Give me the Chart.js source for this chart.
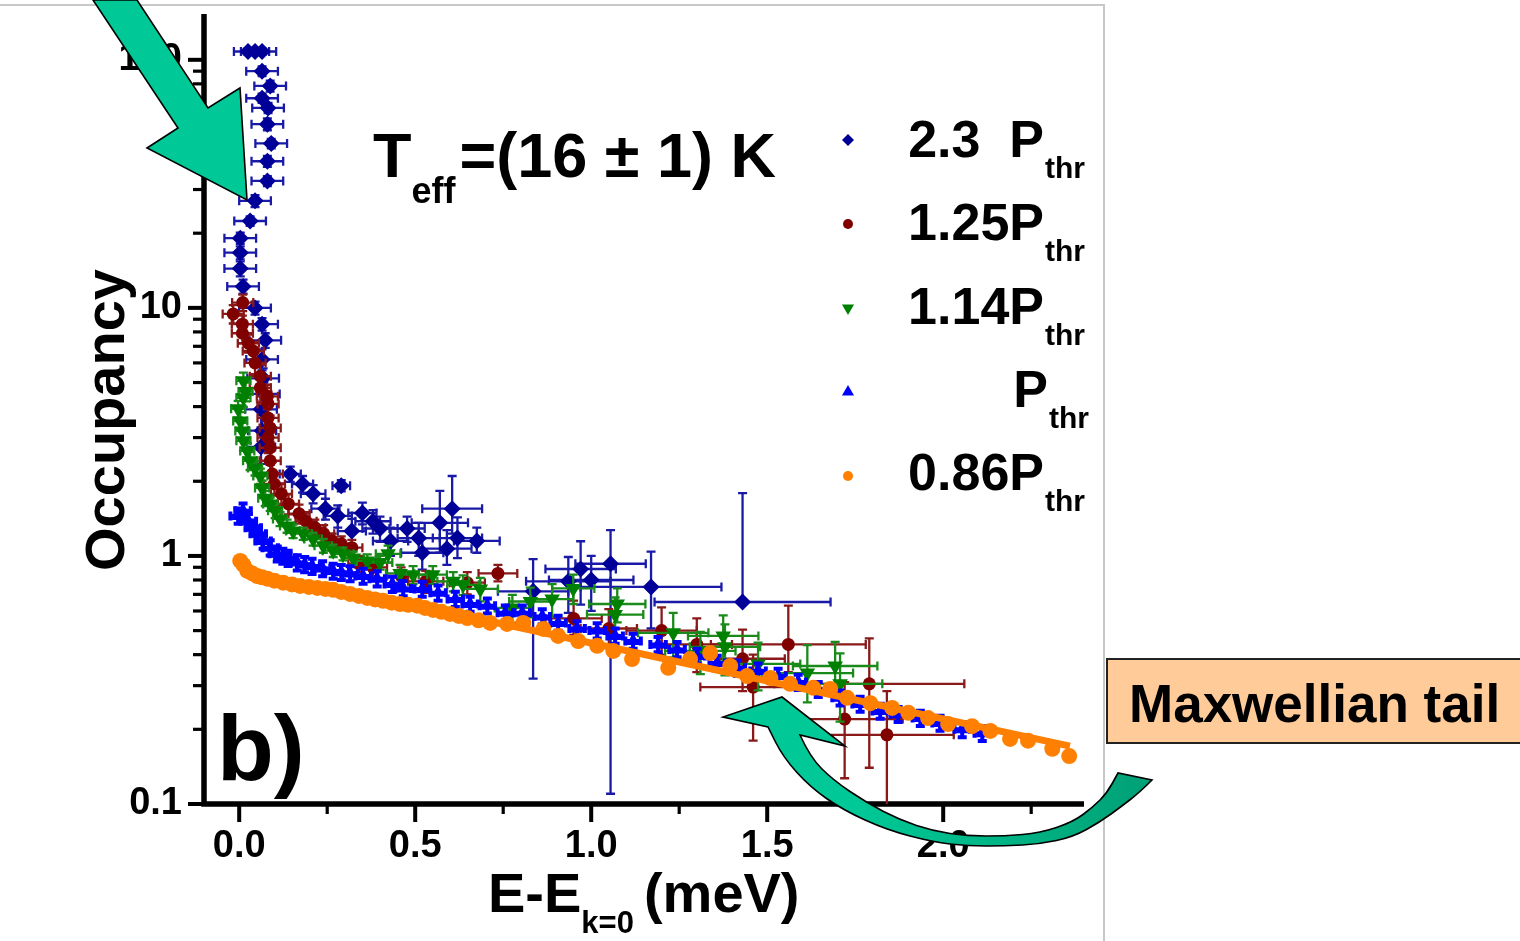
<!DOCTYPE html>
<html>
<head>
<meta charset="utf-8">
<script src="https://cdn.jsdelivr.net/npm/chart.js@4.4.1/dist/chart.umd.min.js"></script>
<style>
  html, body { margin: 0; padding: 0; background: #fff; }
  #wrap { position: relative; width: 1520px; height: 941px; }
  canvas { display: block; }
</style>
</head>
<body>
<div id="wrap"><canvas id="chart" width="1520" height="941"></canvas></div>
<script>
// Polariton occupancy versus energy above k=0, five excitation powers.
// Rows: [energy (meV), occupancy, energy error, occupancy error below, occupancy error above]

const xTickValues = [0, 0.25, 0.5, 0.75, 1.0, 1.25, 1.5, 1.75, 2.0, 2.25];
const xTickLabels = ['0.0', '', '0.5', '', '1.0', '', '1.5', '', '2.0', ''];
const yDecades = [0.1, 1, 10, 100];
const yDecadeLabels = ['0.1', '1', '10', '100'];
const yMinorValues = [0.2, 0.3, 0.4, 0.5, 0.6, 0.7, 0.8, 0.9, 2, 3, 4, 5, 6, 7, 8, 9, 20, 30, 40, 50, 60, 70, 80, 90];

const legendLabels = ['2.3  P', '1.25P', '1.14P', 'P', '0.86P'];
const legendSub = 'thr';

const power23 = [
  [0.025, 108, 0.04, 3, 3], [0.045, 108, 0.04, 3, 3], [0.065, 108, 0.04, 3, 3],
  [0.065, 90, 0.045, 4, 4], [0.088, 78.5, 0.045, 4, 4], [0.065, 70, 0.045, 3, 3],
  [0.082, 64, 0.045, 3, 3], [0.080, 55, 0.045, 3, 3], [0.091, 46, 0.045, 2, 2],
  [0.080, 39, 0.045, 2, 2], [0.080, 32.5, 0.045, 1.5, 1.5], [0.045, 27, 0.045, 1.5, 1.5],
  [0.031, 22.4, 0.045, 1, 1], [0.003, 19.1, 0.045, 1, 1], [0.003, 16.7, 0.045, 1, 1],
  [0.003, 14.4, 0.045, 1, 1], [0.011, 12.2, 0.045, 0.8, 0.8], [0.045, 10.0, 0.045, 0.6, 0.6],
  [0.065, 8.6, 0.045, 0.5, 0.5], [0.074, 7.4, 0.045, 0.5, 0.5], [0.065, 6.2, 0.045, 0.6, 0.6],
  [0.068, 5.2, 0.045, 0.5, 0.5], [0.070, 4.5, 0.045, 0.5, 0.5], [0.062, 3.9, 0.045, 0.6, 0.6],
  [0.065, 3.2, 0.04, 0.5, 0.5], [0.062, 2.75, 0.04, 0.4, 0.4], [0.145, 2.14, 0.03, 0.15, 0.15],
  [0.18, 1.95, 0.03, 0.15, 0.15], [0.21, 1.78, 0.035, 0.15, 0.15], [0.29, 1.92, 0.025, 0.1, 0.1],
  [0.245, 1.55, 0.04, 0.15, 0.15], [0.28, 1.45, 0.04, 0.15, 0.15], [0.35, 1.49, 0.04, 0.15, 0.15],
  [0.32, 1.26, 0.04, 0.15, 0.15], [0.38, 1.38, 0.05, 0.15, 0.15], [0.40, 1.29, 0.05, 0.15, 0.15],
  [0.43, 1.15, 0.05, 0.15, 0.15], [0.477, 1.29, 0.05, 0.15, 0.15], [0.51, 1.18, 0.06, 0.18, 0.18],
  [0.52, 1.03, 0.06, 0.15, 0.15], [0.57, 1.36, 0.08, 0.33, 0.47], [0.605, 1.55, 0.085, 0.32, 0.55],
  [0.62, 1.18, 0.07, 0.2, 0.25], [0.59, 1.07, 0.07, 0.15, 0.2], [0.675, 1.15, 0.065, 0.12, 0.15],
  [0.835, 0.72, 0.1, 0.4, 0.25], [0.935, 0.79, 0.12, 0.2, 0.2], [0.97, 0.886, 0.1, 0.25, 0.26],
  [1.00, 0.80, 0.12, 0.2, 0.2], [1.055, 0.93, 0.1, 0.82, 0.34], [1.17, 0.75, 0.2, 0.24, 0.29],
  [1.43, 0.652, 0.25, null, 1.14]
];

const power125 = [
  [0.01, 10.5, 0.03, 0.8, 0.8], [-0.017, 9.45, 0.03, 0.8, 0.8], [0.009, 8.6, 0.03, 0.7, 0.7],
  [0.009, 7.9, 0.03, 0.7, 0.7], [0.026, 7.2, 0.03, 0.6, 0.6], [0.04, 6.7, 0.03, 0.6, 0.6],
  [0.045, 6.0, 0.03, 0.6, 0.6], [0.06, 5.3, 0.03, 0.6, 0.6], [0.06, 4.76, 0.03, 0.6, 0.6],
  [0.08, 4.4, 0.03, 0.5, 0.5], [0.082, 4.1, 0.03, 0.5, 0.5], [0.082, 3.6, 0.03, 0.5, 0.5],
  [0.088, 3.28, 0.03, 0.4, 0.4], [0.082, 3.0, 0.03, 0.4, 0.4], [0.088, 2.73, 0.03, 0.4, 0.4],
  [0.088, 2.42, 0.03, 0.3, 0.3], [0.094, 2.14, 0.03, 0.25, 0.25], [0.10, 1.95, 0.03, 0.2, 0.2],
  [0.12, 1.78, 0.03, 0.18, 0.18], [0.14, 1.62, 0.03, 0.15, 0.15], [0.17, 1.48, 0.03, 0.13, 0.13],
  [0.19, 1.38, 0.03, 0.12, 0.12], [0.215, 1.30, 0.03, 0.1, 0.1], [0.24, 1.23, 0.03, 0.1, 0.1],
  [0.264, 1.15, 0.03, 0.08, 0.08], [0.29, 1.12, 0.03, 0.08, 0.08], [0.32, 1.08, 0.03, 0.08, 0.08],
  [0.34, 0.93, 0.03, 0.07, 0.07], [0.38, 0.90, 0.04, 0.07, 0.07], [0.46, 0.83, 0.04, 0.07, 0.07],
  [0.53, 0.79, 0.05, 0.08, 0.08], [0.648, 0.78, 0.05, 0.08, 0.08], [0.735, 0.85, 0.055, 0.06, 0.07],
  [0.95, 0.56, 0.08, 0.08, 0.1], [1.05, 0.51, 0.08, 0.08, 0.1], [1.2, 0.50, 0.1, 0.1, 0.12],
  [1.3, 0.44, 0.1, 0.1, 0.12], [1.43, 0.385, 0.12, 0.1, 0.12], [1.46, 0.296, 0.15, 0.116, 0.104],
  [1.56, 0.44, 0.22, 0.1, 0.19], [1.72, 0.22, 0.165, 0.093, 0.09], [1.79, 0.305, 0.27, 0.165, 0.16],
  [1.84, 0.19, 0.19, 0.095, 0.095]
];

const power114 = [
  [0.012, 5.08, 0.02, 0.4, 0.4], [0.018, 4.6, 0.02, 0.4, 0.4], [0.012, 4.34, 0.02, 0.35, 0.35],
  [-0.003, 3.92, 0.02, 0.3, 0.3], [0.003, 3.5, 0.02, 0.3, 0.3], [0.009, 3.19, 0.02, 0.25, 0.25],
  [0.012, 2.91, 0.02, 0.25, 0.25], [0.023, 2.65, 0.02, 0.2, 0.2], [0.031, 2.42, 0.02, 0.2, 0.2],
  [0.045, 2.26, 0.02, 0.15, 0.15], [0.06, 2.1, 0.02, 0.15, 0.15], [0.065, 1.88, 0.02, 0.13, 0.13],
  [0.074, 1.71, 0.02, 0.12, 0.12], [0.088, 1.62, 0.02, 0.1, 0.1], [0.102, 1.52, 0.02, 0.1, 0.1],
  [0.116, 1.41, 0.02, 0.09, 0.09], [0.136, 1.32, 0.02, 0.08, 0.08], [0.153, 1.26, 0.02, 0.08, 0.08],
  [0.182, 1.23, 0.025, 0.07, 0.07], [0.21, 1.17, 0.025, 0.07, 0.07], [0.239, 1.10, 0.025, 0.07, 0.07],
  [0.267, 1.05, 0.03, 0.06, 0.06], [0.295, 1.02, 0.03, 0.06, 0.06], [0.324, 0.98, 0.03, 0.06, 0.06],
  [0.364, 0.955, 0.03, 0.06, 0.06], [0.40, 0.94, 0.035, 0.06, 0.06], [0.423, 1.02, 0.035, 0.08, 0.08],
  [0.457, 0.85, 0.04, 0.07, 0.07], [0.494, 0.84, 0.04, 0.07, 0.07], [0.55, 0.84, 0.04, 0.07, 0.07],
  [0.608, 0.79, 0.045, 0.07, 0.07], [0.636, 0.765, 0.045, 0.07, 0.07], [0.685, 0.736, 0.05, 0.08, 0.08],
  [0.776, 0.617, 0.05, 0.08, 0.08], [0.827, 0.655, 0.06, 0.09, 0.09], [0.889, 0.67, 0.06, 0.1, 0.1],
  [0.949, 0.74, 0.06, 0.1, 0.1], [1.074, 0.64, 0.08, 0.1, 0.1], [1.068, 0.58, 0.08, 0.1, 0.1],
  [1.233, 0.49, 0.1, 0.1, 0.1], [1.31, 0.414, 0.1, 0.08, 0.08], [1.375, 0.476, 0.1, 0.1, 0.1],
  [1.38, 0.43, 0.1, 0.1, 0.1], [1.474, 0.367, 0.12, 0.08, 0.08], [1.614, 0.337, 0.13, 0.08, 0.1],
  [1.693, 0.36, 0.12, 0.08, 0.09], [1.707, 0.305, 0.12, 0.09, 0.1]
];

const power100 = [
  [-0.003, 1.45], [0.011, 1.52], [0.026, 1.38], [0.04, 1.30], [0.054, 1.23], [0.068, 1.15],
  [0.088, 1.08], [0.108, 1.02], [0.124, 1.0], [0.139, 0.98], [0.165, 0.94], [0.186, 0.925],
  [0.207, 0.91], [0.237, 0.89], [0.267, 0.87], [0.29, 0.86], [0.315, 0.85], [0.352, 0.83],
  [0.392, 0.81], [0.435, 0.77], [0.466, 0.74], [0.52, 0.736], [0.565, 0.71], [0.614, 0.67],
  [0.656, 0.64], [0.705, 0.63], [0.756, 0.59], [0.804, 0.59], [0.861, 0.57], [0.906, 0.537],
  [0.96, 0.51], [1.017, 0.50], [1.068, 0.476], [1.119, 0.454], [1.19, 0.44], [1.244, 0.42],
  [1.301, 0.395], [1.358, 0.37], [1.415, 0.354], [1.474, 0.344], [1.531, 0.328], [1.588, 0.31],
  [1.645, 0.29], [1.707, 0.268], [1.764, 0.253], [1.821, 0.237], [1.872, 0.23], [1.935, 0.222],
  [1.991, 0.212], [2.054, 0.20], [2.111, 0.193]
];

const power086 = [
  [0.003, 0.955], [0.012, 0.92], [0.023, 0.87], [0.037, 0.85], [0.051, 0.83], [0.065, 0.82],
  [0.08, 0.81], [0.10, 0.795], [0.125, 0.78], [0.15, 0.768], [0.173, 0.757], [0.198, 0.75],
  [0.222, 0.743], [0.245, 0.736], [0.267, 0.73], [0.29, 0.716], [0.315, 0.703], [0.34, 0.69],
  [0.364, 0.677], [0.386, 0.668], [0.409, 0.659], [0.433, 0.648], [0.457, 0.64], [0.48, 0.635],
  [0.506, 0.63], [0.528, 0.617], [0.551, 0.606], [0.575, 0.595], [0.599, 0.584], [0.624, 0.573],
  [0.648, 0.562], [0.68, 0.55], [0.713, 0.537], [0.761, 0.532], [0.807, 0.537], [0.864, 0.508],
  [0.906, 0.476], [0.963, 0.454], [1.017, 0.434], [1.063, 0.414], [1.116, 0.384], [1.219, 0.354],
  [1.281, 0.384], [1.338, 0.406], [1.395, 0.36], [1.443, 0.328], [1.509, 0.322], [1.565, 0.305],
  [1.631, 0.294], [1.679, 0.291], [1.727, 0.268], [1.793, 0.255], [1.855, 0.244], [1.901, 0.233],
  [1.957, 0.222], [2.014, 0.21], [2.082, 0.206], [2.134, 0.197], [2.19, 0.183], [2.241, 0.18],
  [2.31, 0.167], [2.358, 0.156]
];

// Exponential (Maxwell-Boltzmann) tail fitted to the 0.86 Pthr data
const fitEnergy = [0.6, 2.36];
const fitOccupancy = [0.59, 0.171];

const FONT = "'Liberation Sans', Arial, Helvetica, sans-serif";

// Error rows for series stored with relative errors
function withErrors(rows, xe, rel) {
  return rows.map(r => [r[0], r[1], xe, r[1] * rel, r[1] * rel]);
}

function makeSet(label, rows, color, errColor, errWidth, style, radius, rotation, order) {
  return {
    label,
    data: rows.map(r => ({ x: r[0], y: r[1] })),
    errors: rows,
    errColor,
    errWidth,
    backgroundColor: color,
    borderColor: color,
    pointStyle: style,
    pointRadius: radius,
    pointRotation: rotation,
    pointBorderWidth: 0,
    showLine: false,
    order
  };
}

const datasets = [
  makeSet(legendLabels[0], power23, '#000099', '#1a1aa8', 2.3, 'rectRot', 8.5, 0, 5),
  makeSet(legendLabels[1], power125, '#800000', '#8a1a1a', 2.3, 'circle', 6.5, 0, 4),
  makeSet(legendLabels[2], power114, '#008000', '#1a8a1a', 2.3, 'triangle', 9, 180, 3),
  makeSet(legendLabels[3], withErrors(power100, 0.022, 0.07), '#0000ff', '#0000ff', 4, 'triangle', 8, 0, 2),
  makeSet(legendLabels[4], withErrors(power086, 0.012, 0.035), '#ff8000', '#ff8000', 2.3, 'circle', 8, 0, 0),
  {
    label: 'fit',
    data: fitEnergy.map((e, i) => ({ x: e, y: fitOccupancy[i] })),
    showLine: true,
    borderColor: '#ff8000',
    borderWidth: 7,
    pointRadius: 0,
    order: 1
  }
];

// Error bars drawn just before each dataset's markers
const errorBars = {
  id: 'errorBars',
  beforeDatasetDraw(chart, args) {
    const ds = chart.data.datasets[args.index];
    if (!ds.errors) return;
    const { ctx, chartArea: a, scales: { x, y } } = chart;
    const cap = 4.5;
    ctx.save();
    ctx.beginPath();
    ctx.rect(a.left, a.top, a.right - a.left, a.bottom - a.top);
    ctx.clip();
    ctx.strokeStyle = ds.errColor;
    ctx.lineWidth = ds.errWidth;
    ds.errors.forEach(([vx, vy, xe, eLo, eHi]) => {
      const px = x.getPixelForValue(vx);
      const py = y.getPixelForValue(vy);
      ctx.beginPath();
      if (xe) {
        const l = x.getPixelForValue(vx - xe);
        const r = x.getPixelForValue(vx + xe);
        ctx.moveTo(l, py); ctx.lineTo(r, py);
        ctx.moveTo(l, py - cap); ctx.lineTo(l, py + cap);
        ctx.moveTo(r, py - cap); ctx.lineTo(r, py + cap);
      }
      if (eHi) {
        const t = y.getPixelForValue(vy + eHi);
        ctx.moveTo(px, py); ctx.lineTo(px, t);
        ctx.moveTo(px - cap, t); ctx.lineTo(px + cap, t);
      }
      if (eLo != null && vy - eLo > 0) {
        const b = y.getPixelForValue(vy - eLo);
        ctx.moveTo(px, py); ctx.lineTo(px, b);
        ctx.moveTo(px - cap, b); ctx.lineTo(px + cap, b);
      }
      ctx.stroke();
    });
    ctx.restore();
  }
};

// Thick axis spines with outward major/minor tick marks
const axisFrame = {
  id: 'axisFrame',
  beforeDatasetsDraw(chart) {
    const { ctx, chartArea: a, scales: { x, y } } = chart;
    ctx.save();
    ctx.strokeStyle = '#000';
    ctx.lineCap = 'butt';
    yDecades.concat(yMinorValues).forEach(v => {
      const major = yDecades.includes(v);
      const py = y.getPixelForValue(v);
      ctx.lineWidth = major ? 4 : 3.2;
      ctx.beginPath();
      ctx.moveTo(a.left, py);
      ctx.lineTo(a.left - (major ? 16 : 11), py);
      ctx.stroke();
    });
    xTickValues.forEach((v, i) => {
      const major = xTickLabels[i] !== '';
      const px = x.getPixelForValue(v);
      ctx.lineWidth = major ? 4 : 3.2;
      ctx.beginPath();
      ctx.moveTo(px, a.bottom);
      ctx.lineTo(px, a.bottom + (major ? 18 : 10));
      ctx.stroke();
    });
    ctx.lineWidth = 5.5;
    ctx.beginPath();
    ctx.moveTo(a.left, a.top);
    ctx.lineTo(a.left, a.bottom + 2.75);
    ctx.moveTo(a.left - 2.75, a.bottom);
    ctx.lineTo(a.right, a.bottom);
    ctx.stroke();
    ctx.restore();
  }
};

function font(size) { return 'bold ' + size + 'px ' + FONT; }

function smoothPath(ctx, pts) {
  ctx.lineTo(pts[0][0], pts[0][1]);
  for (let i = 1; i < pts.length - 1; i++) {
    const mx = (pts[i][0] + pts[i + 1][0]) / 2;
    const my = (pts[i][1] + pts[i + 1][1]) / 2;
    ctx.quadraticCurveTo(pts[i][0], pts[i][1], mx, my);
  }
  const last = pts[pts.length - 1];
  ctx.lineTo(last[0], last[1]);
}

// Texts, legend and callout shapes
const annotations = {
  id: 'annotations',
  afterDraw(chart) {
    const { ctx } = chart;
    ctx.save();

    // figure frame
    ctx.strokeStyle = '#c8c8c8';
    ctx.lineWidth = 2;
    ctx.beginPath();
    ctx.moveTo(0, 5); ctx.lineTo(1104, 5); ctx.lineTo(1104, 941);
    ctx.stroke();

    ctx.fillStyle = '#000';
    ctx.textBaseline = 'alphabetic';
    ctx.textAlign = 'left';

    // effective temperature
    let tx = 373;
    ctx.font = font(63);
    ctx.fillText('T', tx, 177);
    tx += ctx.measureText('T').width;
    ctx.font = font(36);
    ctx.fillText('eff', tx, 203);
    tx += ctx.measureText('eff').width + 4;
    ctx.font = font(63);
    ctx.fillText('=(16 \u00b1 1) K', tx, 177);

    // panel letter
    ctx.font = font(93);
    ctx.fillText('b)', 217, 780);

    // y axis title
    ctx.save();
    ctx.translate(124, 420);
    ctx.rotate(-Math.PI / 2);
    ctx.textAlign = 'center';
    ctx.font = font(56);
    ctx.fillText('Occupancy', 0, 0);
    ctx.restore();

    // x axis title
    let ax = 488;
    ctx.font = font(56);
    ctx.fillText('E-E', ax, 912);
    ax += ctx.measureText('E-E').width;
    ctx.font = font(31);
    ctx.fillText('k=0', ax, 933);
    ax += ctx.measureText('k=0').width + 10;
    ctx.font = font(56);
    ctx.fillText('(meV)', ax, 912);

    // legend
    const markerColors = ['#000099', '#800000', '#008000', '#0000ff', '#ff8000'];
    const markerStyles = ['rectRot', 'circle', 'triangle', 'triangle', 'circle'];
    const markerRot = [0, 0, 180, 0, 0];
    const markerSize = [6, 5, 7, 7, 5];
    const rowShift = [0, 0, 0, 4, 0];
    legendLabels.forEach((lab, i) => {
      const my = 140 + i * 84;
      ctx.fillStyle = markerColors[i];
      ctx.strokeStyle = markerColors[i];
      Chart.helpers.drawPoint(ctx, { pointStyle: markerStyles[i], rotation: markerRot[i], radius: markerSize[i], borderWidth: 0 }, 848, my);
      const base = 157 + i * 83.3;
      ctx.fillStyle = '#000';
      ctx.textAlign = 'right';
      ctx.font = font(52);
      ctx.fillText(lab, 1044 + rowShift[i], base);
      ctx.textAlign = 'left';
      ctx.font = font(30);
      ctx.fillText(legendSub, 1045 + rowShift[i], base + 21);
    });

    // label box
    ctx.fillStyle = '#ffcc99';
    ctx.fillRect(1107, 659, 420, 84);
    ctx.strokeStyle = '#222';
    ctx.lineWidth = 2;
    ctx.strokeRect(1107, 659, 420, 84);
    ctx.fillStyle = '#000';
    ctx.textAlign = 'left';
    ctx.font = font(53);
    ctx.fillText('Maxwellian tail', 1129, 722);

    // straight arrow pointing at the condensate
    ctx.beginPath();
    ctx.moveTo(93, 0);
    ctx.lineTo(137, 0);
    ctx.lineTo(208, 108);
    ctx.lineTo(240, 88);
    ctx.lineTo(247, 200);
    ctx.lineTo(147, 148);
    ctx.lineTo(178, 128);
    ctx.closePath();
    ctx.fillStyle = '#00c997';
    ctx.fill();
    ctx.strokeStyle = '#000';
    ctx.lineWidth = 1.6;
    ctx.stroke();

    // curved arrow pointing at the tail
    const inner = [[800, 735], [810, 757], [833, 780], [867, 803], [900, 820], [933, 831], [967, 836],
      [1005, 836], [1040, 833], [1073, 822], [1093, 807], [1107, 793], [1118, 773]];
    const outer = [[1152, 780], [1140, 792], [1122, 806], [1100, 822], [1073, 837], [1040, 844],
      [1005, 846], [967, 846], [933, 842], [887, 830], [843, 810], [810, 787], [783, 757], [768, 727]];
    ctx.beginPath();
    ctx.moveTo(768, 727);
    ctx.lineTo(723, 717);
    ctx.lineTo(782, 697);
    ctx.lineTo(845, 746);
    smoothPath(ctx, inner);
    smoothPath(ctx, outer);
    ctx.closePath();
    const grad = ctx.createLinearGradient(850, 0, 1130, 0);
    grad.addColorStop(0, '#00c997');
    grad.addColorStop(1, '#00a377');
    ctx.fillStyle = grad;
    ctx.fill();
    ctx.strokeStyle = '#000';
    ctx.lineWidth = 1.6;
    ctx.stroke();

    ctx.restore();
  }
};

// Scale boxes sized so the plot area spans exactly the padded region
function fixBox(s, size) {
  if (s.isHorizontal()) s.height = size; else s.width = size;
  s.paddingTop = 0;
  s.paddingBottom = 0;
  s.paddingLeft = 0;
  s.paddingRight = 0;
}

new Chart(document.getElementById('chart'), {
  type: 'scatter',
  data: { datasets },
  options: {
    responsive: false,
    animation: false,
    devicePixelRatio: 1,
    events: [],
    layout: { autoPadding: false, padding: { top: 14, right: 436, left: 0, bottom: 0 } },
    plugins: { legend: { display: false }, tooltip: { enabled: false } },
    scales: {
      x: {
        type: 'linear',
        min: -0.1,
        max: 2.4,
        afterBuildTicks: s => { s.ticks = xTickValues.map(v => ({ value: v })); },
        afterFit: s => fixBox(s, 137),
        grid: { display: false, drawTicks: false },
        border: { display: false },
        ticks: {
          autoSkip: false,
          maxRotation: 0,
          padding: 20,
          color: '#000',
          font: { family: FONT, size: 38, weight: 'bold' },
          callback: v => xTickLabels[xTickValues.indexOf(v)] ?? ''
        }
      },
      y: {
        type: 'logarithmic',
        min: 0.1,
        max: 153,
        afterBuildTicks: s => { s.ticks = yDecades.map(v => ({ value: v })); },
        afterFit: s => fixBox(s, 204),
        grid: { display: false, drawTicks: false },
        border: { display: false },
        ticks: {
          autoSkip: false,
          padding: 22,
          color: '#000',
          font: { family: FONT, size: 38, weight: 'bold' },
          callback: v => yDecadeLabels[yDecades.indexOf(v)] ?? ''
        }
      }
    }
  },
  plugins: [errorBars, axisFrame, annotations]
});
</script>
</body>
</html>
